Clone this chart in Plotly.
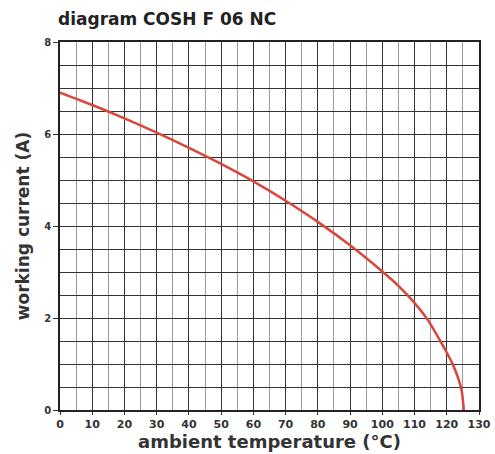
import plotly.graph_objects as go

temps = [0, 10, 20, 30, 40, 50, 60, 70, 80, 90, 100, 105, 110, 114, 118, 120, 122, 123.5, 124.6, 125.3]
currents = [6.9, 6.63, 6.34, 6.03, 5.70, 5.35, 4.97, 4.55, 4.09, 3.58, 3.01, 2.70, 2.33, 1.97, 1.5, 1.25, 0.97, 0.70, 0.43, 0.0]
x_ticks = list(range(0, 131, 10))
y_ticks = [0, 2, 4, 6, 8]

fig = go.Figure()
fig.add_trace(go.Scatter(x=temps, y=currents, mode="lines",
                         line=dict(color="#d9473c", width=2.5, shape="spline", smoothing=0.8),
                         hoverinfo="skip"))

font_family = "DejaVu Sans"
fig.update_layout(
    width=495, height=454,
    margin=dict(l=60, r=16, t=42, b=44),
    paper_bgcolor="white", plot_bgcolor="white",
    showlegend=False,
    title=dict(text="<b>diagram COSH F 06 NC</b>", x=58/495, xanchor="left", y=1-19/454, yanchor="middle",
               font=dict(family=font_family, size=17, color="#222")),
    xaxis=dict(range=[0, 130], tickvals=x_ticks, ticktext=[f"<b>{v}</b>" for v in x_ticks],
               showgrid=True, gridcolor="#333", gridwidth=1.3,
               minor=dict(dtick=5, showgrid=True, gridcolor="#9a9a9a", gridwidth=1),
               showline=True, linecolor="#222", linewidth=1.5, mirror=True,
               ticks="outside", ticklen=3, tickcolor="#333",
               tickfont=dict(family=font_family, size=11, color="#333"),
               automargin=False,
               title=dict(text="<b>ambient temperature (°C)</b>", standoff=0,
                          font=dict(family=font_family, size=18, color="#333")),
               zeroline=False),
    yaxis=dict(range=[0, 8], tickvals=y_ticks, ticktext=[f"<b>{v}</b>" for v in y_ticks],
               showgrid=True, gridcolor="#333", gridwidth=1.3,
               minor=dict(dtick=0.5, showgrid=True, gridcolor="#333", gridwidth=1.3),
               showline=True, linecolor="#222", linewidth=1.5, mirror=True,
               ticks="outside", ticklen=5, tickcolor="#333",
               tickfont=dict(family=font_family, size=10, color="#333"),
               automargin=False,
               title=dict(text="<b>working current (A)</b>", standoff=10,
                          font=dict(family=font_family, size=17, color="#333")),
               zeroline=False),
)

fig.write_html("out.html", config={"displayModeBar": False},
               post_script="document.body.style.margin='0';document.body.style.overflow='hidden';")
